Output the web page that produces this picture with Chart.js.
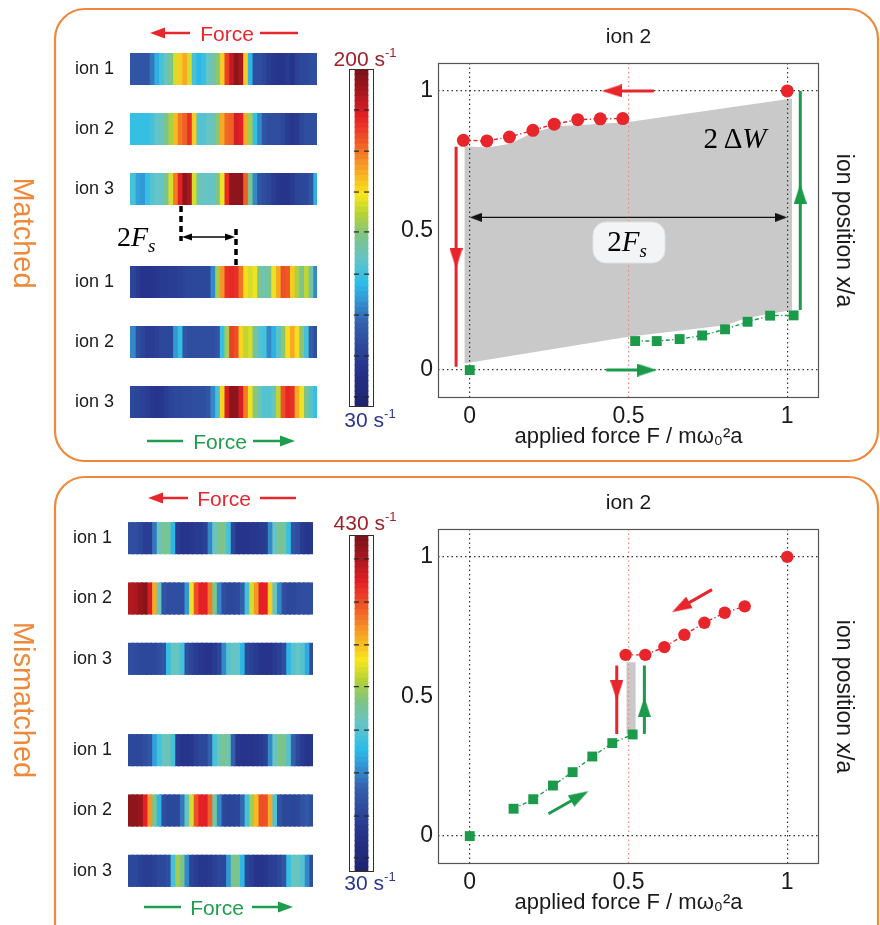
<!DOCTYPE html>
<html>
<head>
<meta charset="utf-8">
<script src="https://cdn.jsdelivr.net/npm/chart.js@4.4.1/dist/chart.umd.min.js"></script>
<style>
  body { margin: 0; width: 880px; height: 925px; overflow: hidden; position: relative; background: #fff;
         font-family: 'Liberation Sans', Arial, sans-serif; }
  canvas { position: absolute; }
  svg.overlay { position: absolute; left: 0; top: 0; pointer-events: none; }
</style>
</head>
<body>
<canvas id="mStripA" width="257" height="180" style="left:60px;top:39px"></canvas>
<canvas id="mStripB" width="257" height="180" style="left:60px;top:252px"></canvas>
<canvas id="mBar" width="25" height="338" style="left:349px;top:69px"></canvas>
<canvas id="mPlot" width="500" height="437" style="left:380px;top:15px"></canvas>

<canvas id="xStripA" width="255" height="181" style="left:58px;top:508px"></canvas>
<canvas id="xStripB" width="255" height="181" style="left:58px;top:720px"></canvas>
<canvas id="xBar" width="25" height="337" style="left:349px;top:535px"></canvas>
<canvas id="xPlot" width="500" height="437" style="left:380px;top:481px"></canvas>

<svg class="overlay" width="880" height="925" font-family="'Liberation Sans', Arial, sans-serif">
  <!-- panel frames -->
  <rect x="55" y="9" width="823" height="452" rx="30" ry="30" fill="none" stroke="#f0883a" stroke-width="2.2"/>
  <rect x="55" y="477" width="823" height="480" rx="30" ry="30" fill="none" stroke="#f0883a" stroke-width="2.2"/>
  <text x="22" y="233" transform="rotate(90 22 233)" text-anchor="middle" dominant-baseline="middle" fill="#f0883a" font-size="29">Matched</text>
  <text x="22" y="700" transform="rotate(90 22 700)" text-anchor="middle" dominant-baseline="middle" fill="#f0883a" font-size="29">Mismatched</text>

  <!-- force direction labels -->
  <g stroke="#e8262c" stroke-width="2.5" fill="#e8262c">
    <line x1="160" y1="33" x2="190" y2="33"/>
    <polygon points="150,33 165,27.5 165,38.5" stroke="none"/>
    <line x1="260" y1="33" x2="298" y2="33"/>
    <line x1="158" y1="498" x2="188" y2="498"/>
    <polygon points="148,498 163,492.5 163,503.5" stroke="none"/>
    <line x1="260" y1="498" x2="296" y2="498"/>
  </g>
  <text x="227" y="40.5" text-anchor="middle" font-size="21" fill="#e8262c">Force</text>
  <text x="224" y="505.5" text-anchor="middle" font-size="21" fill="#e8262c">Force</text>
  <g stroke="#1f9d4e" stroke-width="2.5" fill="#1f9d4e">
    <line x1="147" y1="441" x2="183" y2="441"/>
    <line x1="253" y1="441" x2="283" y2="441"/>
    <polygon points="295,441 280,435.5 280,446.5" stroke="none"/>
    <line x1="144" y1="907" x2="181" y2="907"/>
    <line x1="252" y1="907" x2="281" y2="907"/>
    <polygon points="293,907 278,901.5 278,912.5" stroke="none"/>
  </g>
  <text x="220" y="448.5" text-anchor="middle" font-size="21" fill="#1f9d4e">Force</text>
  <text x="217" y="914.5" text-anchor="middle" font-size="21" fill="#1f9d4e">Force</text>

  <!-- colour bar labels -->
  <text x="365" y="66" text-anchor="middle" font-size="21" fill="#9e1f27">200 s<tspan dy="-9" font-size="13">-1</tspan></text>
  <text x="370" y="427" text-anchor="middle" font-size="21" fill="#2b3590">30 s<tspan dy="-9" font-size="13">-1</tspan></text>
  <text x="365" y="530" text-anchor="middle" font-size="21" fill="#9e1f27">430 s<tspan dy="-9" font-size="13">-1</tspan></text>
  <text x="370" y="890" text-anchor="middle" font-size="21" fill="#2b3590">30 s<tspan dy="-9" font-size="13">-1</tspan></text>

  <!-- 2Fs marker between the strip groups -->
  <g stroke="#000" stroke-width="3.5" stroke-dasharray="6,4">
    <line x1="181" y1="206" x2="181" y2="241"/>
    <line x1="236" y1="229" x2="236" y2="267"/>
  </g>
  <line x1="188" y1="237" x2="229" y2="237" stroke="#000" stroke-width="1.3"/>
  <polygon points="182,237 192,233.5 192,240.5" fill="#000"/>
  <polygon points="235,237 225,233.5 225,240.5" fill="#000"/>
  <text x="117" y="246" font-family="'Liberation Serif', serif" font-size="28" font-style="italic"><tspan font-style="normal">2</tspan>F<tspan dy="6" font-size="19">s</tspan></text>

  <!-- labels inside matched plot -->
  <rect x="593" y="222" width="72" height="41" rx="13" ry="13" fill="#f3f4f5" stroke="#e2e2e2" stroke-width="1"/>
  <text x="627" y="251" text-anchor="middle" font-family="'Liberation Serif', serif" font-size="29" font-style="italic"><tspan font-style="normal">2</tspan>F<tspan dy="6" font-size="19">s</tspan></text>
  <text x="735" y="148" text-anchor="middle" font-family="'Liberation Serif', serif" font-size="29">2 Δ<tspan font-style="italic">W</tspan></text>
</svg>

<script>
Chart.defaults.font.family = "'Liberation Sans', Arial, sans-serif";
Chart.defaults.color = '#1a1a1a';
Chart.defaults.animation = false;

// ---- strip data: fraction of colour scale, 40 columns left -> right ----
const ionLabels = ['ion 1', 'ion 2', 'ion 3'];

// matched, force pointing left (upper group)
const matchedLeftIon1 = [0.22,0.22,0.22,0.22,0.28,0.35,0.40,0.45,0.50,0.60, 0.66,0.70,0.60,0.40,0.36,0.38,0.44,0.48,0.52,0.66, 0.82,0.90,0.97,0.93,0.66,0.36,0.20,0.20,0.18,0.15, 0.13,0.12,0.12,0.14,0.12,0.16,0.18,0.18,0.20,0.20];
const matchedLeftIon2 = [0.38,0.38,0.38,0.38,0.40,0.44,0.45,0.50,0.56,0.68, 0.75,0.78,0.84,0.66,0.42,0.42,0.44,0.46,0.52,0.70, 0.77,0.78,0.88,0.86,0.70,0.55,0.38,0.30,0.22,0.20, 0.20,0.20,0.18,0.15,0.13,0.14,0.18,0.20,0.20,0.20];
const matchedLeftIon3 = [0.40,0.33,0.32,0.38,0.42,0.44,0.44,0.50,0.60,0.75, 0.86,0.97,0.93,0.60,0.46,0.45,0.44,0.45,0.50,0.62, 0.85,0.97,0.97,0.97,0.78,0.50,0.30,0.22,0.20,0.18, 0.15,0.13,0.12,0.12,0.14,0.17,0.18,0.18,0.22,0.35];
// matched, force pointing right (lower group)
const matchedRightIon1 = [0.17,0.14,0.12,0.12,0.12,0.13,0.14,0.14,0.15,0.15, 0.16,0.17,0.18,0.18,0.18,0.18,0.18,0.30,0.55,0.72, 0.84,0.85,0.84,0.76,0.64,0.60,0.62,0.50,0.46,0.50, 0.62,0.70,0.80,0.79,0.66,0.56,0.50,0.58,0.48,0.30];
const matchedRightIon2 = [0.30,0.20,0.17,0.15,0.15,0.16,0.18,0.18,0.18,0.32, 0.38,0.22,0.20,0.20,0.20,0.20,0.20,0.20,0.22,0.38, 0.55,0.82,0.80,0.65,0.58,0.60,0.48,0.42,0.40,0.30, 0.35,0.42,0.52,0.64,0.70,0.64,0.52,0.40,0.24,0.20];
const matchedRightIon3 = [0.18,0.17,0.16,0.15,0.13,0.12,0.13,0.15,0.17,0.18, 0.18,0.19,0.19,0.20,0.20,0.20,0.22,0.30,0.40,0.65, 0.88,0.97,0.97,0.88,0.75,0.62,0.52,0.46,0.42,0.42, 0.45,0.58,0.80,0.85,0.84,0.70,0.62,0.50,0.42,0.38];

// mismatched
const mismLeftIon1 = [0.20,0.20,0.18,0.15,0.15,0.28,0.45,0.50,0.48,0.36, 0.14,0.12,0.12,0.13,0.14,0.14,0.16,0.30,0.45,0.50, 0.50,0.40,0.18,0.12,0.12,0.12,0.13,0.13,0.14,0.15, 0.30,0.45,0.50,0.48,0.38,0.22,0.20,0.14,0.12,0.13];
const mismLeftIon2 = [0.92,0.93,0.96,0.98,0.88,0.70,0.45,0.22,0.20,0.20, 0.20,0.20,0.32,0.62,0.80,0.86,0.86,0.75,0.50,0.30, 0.20,0.18,0.18,0.19,0.25,0.40,0.60,0.72,0.86,0.86, 0.66,0.45,0.30,0.20,0.18,0.18,0.19,0.20,0.20,0.20];
const mismLeftIon3 = [0.20,0.19,0.18,0.18,0.18,0.18,0.20,0.22,0.38,0.45, 0.45,0.40,0.20,0.17,0.15,0.13,0.12,0.12,0.14,0.17, 0.30,0.42,0.45,0.44,0.36,0.18,0.16,0.14,0.12,0.12, 0.12,0.14,0.16,0.20,0.36,0.42,0.45,0.42,0.34,0.20];
const mismRightIon1 = [0.18,0.18,0.18,0.20,0.22,0.33,0.40,0.45,0.46,0.40, 0.14,0.12,0.12,0.13,0.16,0.18,0.18,0.25,0.40,0.46, 0.50,0.46,0.25,0.13,0.12,0.12,0.12,0.13,0.14,0.16, 0.30,0.45,0.50,0.50,0.42,0.25,0.18,0.14,0.12,0.13];
const mismRightIon2 = [0.97,0.97,0.95,0.86,0.72,0.50,0.36,0.20,0.18,0.18, 0.18,0.28,0.45,0.60,0.80,0.86,0.86,0.78,0.48,0.30, 0.18,0.17,0.17,0.18,0.26,0.40,0.55,0.68,0.80,0.80, 0.70,0.42,0.22,0.18,0.18,0.17,0.18,0.21,0.23,0.20];
const mismRightIon3 = [0.18,0.18,0.16,0.15,0.15,0.16,0.18,0.18,0.20,0.40, 0.55,0.50,0.30,0.17,0.15,0.13,0.13,0.14,0.16,0.18, 0.18,0.32,0.50,0.50,0.36,0.17,0.15,0.12,0.12,0.13, 0.15,0.16,0.18,0.22,0.38,0.45,0.45,0.42,0.30,0.20];

// colour bar tick positions (fraction from bottom)
const matchedBarTicks = [0.030, 0.151, 0.272, 0.393, 0.518, 0.636, 0.757, 0.879];
const mismBarTicks = [0.042, 0.166, 0.294, 0.421, 0.550, 0.674, 0.801, 0.929];
const CB_LEVELS = 64;

// ---- position plots ----
const xTickValues = [0, 0.5, 1];
const yTickValues = [0, 0.5, 1];

const matchedRed = [[-0.02,0.823],[0.054,0.821],[0.125,0.835],[0.199,0.859],[0.266,0.881],[0.34,0.897],[0.411,0.90],[0.482,0.901]];
const matchedRedEnd = [[1,1]];
const matchedGreen = [[0.521,0.104],[0.589,0.104],[0.661,0.111],[0.732,0.124],[0.804,0.146],[0.875,0.173],[0.946,0.195],[1.02,0.196]];
const matchedGreenStart = [[0,0]];
const matchedFillTop = [[-0.017,0.802],[0.054,0.797],[0.127,0.811],[0.199,0.850],[0.274,0.874],[0.34,0.877],[0.5,0.889],[1.015,0.973]];
const matchedFillBottom = [[-0.017,0.024],[0.5,0.119],[0.805,0.161],[0.873,0.187],[1.015,0.215]];
const matchedArrows = [
  { color: 'red', line: [[0.58,1],[0.44,1]], tips: [[0.416,1]] },
  { color: 'red', line: [[-0.043,0.80],[-0.043,0.012]], tips: [[-0.043,0.364]] },
  { color: 'green', line: [[0.43,0],[0.565,0]], tips: [[0.59,0]] },
  { color: 'green', line: [[1.041,0.215],[1.041,1.0]], tips: [[1.041,0.668]] },
  { color: 'black', line: [[0.5,0.547],[0.02,0.547]], tips: [[0,0.547]] },
  { color: 'black', line: [[0.5,0.547],[0.98,0.547]], tips: [[1,0.547]] }
];

const mismRed = [[0.491,0.649],[0.553,0.649],[0.613,0.677],[0.676,0.721],[0.739,0.764],[0.803,0.80],[0.866,0.823]];
const mismRedEnd = [[1,1]];
const mismGreen = [[0.138,0.098],[0.20,0.132],[0.262,0.181],[0.324,0.229],[0.386,0.285],[0.449,0.333],[0.513,0.364]];
const mismGreenStart = [[0,0]];
const mismFillTop = [[0.493,0.623],[0.523,0.623]];
const mismFillBottom = [[0.493,0.366],[0.523,0.366]];
const mismArrows = [
  { color: 'red', line: [[0.763,0.883],[0.655,0.813]], tips: [[0.637,0.802]] },
  { color: 'green', line: [[0.248,0.08],[0.356,0.15]], tips: [[0.374,0.161]] },
  { color: 'red', line: [[0.463,0.611],[0.463,0.366]], tips: [[0.463,0.486]] },
  { color: 'green', line: [[0.55,0.366],[0.55,0.611]], tips: [[0.55,0.498]] }
];

// ---- styles ----
const RED = '#e8252b';
const GREEN = '#1b9a4a';
const FILL_GRAY = '#c9c9c9';
const ARROW_COLORS = { red: RED, green: GREEN, black: '#111' };

// printed "jet" colour map
const JET_STOPS = [
  [0.00, [30, 35, 110]], [0.12, [38, 52, 140]], [0.25, [52, 95, 172]], [0.33, [50, 160, 220]],
  [0.37, [45, 190, 232]], [0.44, [100, 196, 200]], [0.51, [128, 196, 130]], [0.57, [180, 210, 55]],
  [0.63, [248, 230, 28]], [0.71, [246, 160, 38]], [0.78, [240, 95, 38]], [0.86, [228, 32, 38]],
  [0.93, [170, 24, 30]], [1.00, [120, 18, 24]]
];

function jet(t) {
  t = Math.max(0, Math.min(1, t));
  for (let i = 1; i < JET_STOPS.length; i++) {
    const [t1, c1] = JET_STOPS[i];
    if (t <= t1) {
      const [t0, c0] = JET_STOPS[i - 1];
      const f = (t - t0) / (t1 - t0);
      const c = c0.map((v, k) => Math.round(v + (c1[k] - v) * f));
      return `rgb(${c[0]},${c[1]},${c[2]})`;
    }
  }
  return 'rgb(120,18,24)';
}

const toXY = pts => pts.map(([x, y]) => ({ x, y }));

const framePlugin = {
  id: 'frame',
  beforeDatasetsDraw(chart, args, opts) {
    if (opts.onTop) return;
    strokeFrame(chart, opts);
  },
  afterDraw(chart, args, opts) {
    if (opts.onTop) strokeFrame(chart, opts);
  }
};

function strokeFrame(chart, opts) {
  const { ctx, chartArea: a } = chart;
  ctx.save();
  ctx.strokeStyle = opts.color || '#555';
  ctx.lineWidth = opts.width || 1;
  ctx.strokeRect(Math.round(a.left) + 0.5, Math.round(a.top) + 0.5, Math.round(a.right - a.left) - 1, Math.round(a.bottom - a.top) - 1);
  ctx.restore();
}

// arrow head image with the tip at the image centre, pointing up
function arrowHead(color, w, len) {
  const c = document.createElement('canvas');
  c.width = w;
  c.height = len * 2;
  const g = c.getContext('2d');
  g.fillStyle = color;
  g.beginPath();
  g.moveTo(w / 2, len);
  g.lineTo(w, len * 2);
  g.lineTo(0, len * 2);
  g.closePath();
  g.fill();
  return c;
}
const HEADS = {
  red: arrowHead(RED, 13, 20),
  green: arrowHead(GREEN, 13, 20),
  black: arrowHead('#111', 9, 12)
};

function headAngle(chart, line) {
  const xs = chart.scales.x, ys = chart.scales.y;
  const dx = xs.getPixelForValue(line[1][0]) - xs.getPixelForValue(line[0][0]);
  const dy = ys.getPixelForValue(line[1][1]) - ys.getPixelForValue(line[0][1]);
  return Math.atan2(dx, -dy) * 180 / Math.PI;
}

function stripChart(id, strips) {
  const nCols = strips[0].length;
  const datasets = [];
  for (let j = 0; j < nCols; j++) {
    datasets.push({
      data: strips.map(() => 1),
      backgroundColor: strips.map(s => jet(s[j])),
      borderWidth: 0,
      inflateAmount: 1,
      barPercentage: 0.5,
      categoryPercentage: 1
    });
  }
  new Chart(document.getElementById(id), {
    type: 'bar',
    data: { labels: ionLabels, datasets },
    options: {
      indexAxis: 'y',
      responsive: false,
      devicePixelRatio: 1,
      events: [],
      layout: { padding: 0, autoPadding: false },
      plugins: { legend: { display: false }, tooltip: { enabled: false } },
      scales: {
        x: { display: false, stacked: true, min: 0, max: nCols },
        y: {
          stacked: true,
          grid: { display: false, drawTicks: false },
          border: { display: false },
          ticks: { font: { size: 18 }, padding: 16, color: '#1a1a1a' },
          afterFit: s => { s.width = 70; s.paddingTop = 0; s.paddingBottom = 0; }
        }
      }
    }
  });
}

function colorBar(id, tickFractions) {
  const levels = [];
  for (let k = 0; k < CB_LEVELS; k++) levels.push(k);
  const tickPts = [];
  tickFractions.forEach(f => {
    tickPts.push({ x: 0.09, y: f * CB_LEVELS });
    tickPts.push({ x: 0.91, y: f * CB_LEVELS });
  });
  new Chart(document.getElementById(id), {
    type: 'bar',
    data: {
      datasets: [
        {
          type: 'scatter',
          data: tickPts,
          pointStyle: 'line',
          pointRadius: 2.5,
          pointBorderColor: '#222',
          pointBorderWidth: 1.2
        },
        {
          type: 'bar',
          indexAxis: 'y',
          data: levels.map(k => ({ y: k + 0.5, x: 1 })),
          backgroundColor: levels.map(k => jet((k + 0.5) / CB_LEVELS)),
          borderWidth: 0,
          inflateAmount: 0.6,
          barPercentage: 1,
          categoryPercentage: 1
        }
      ]
    },
    options: {
      responsive: false,
      devicePixelRatio: 1,
      events: [],
      layout: { padding: 0, autoPadding: false },
      plugins: { legend: { display: false }, tooltip: { enabled: false }, frame: { color: '#3a2a28', width: 1, onTop: true } },
      scales: {
        x: { type: 'linear', display: false, min: 0, max: 1 },
        y: { type: 'linear', display: false, min: 0, max: CB_LEVELS, offset: false }
      }
    },
    plugins: [framePlugin]
  });
}

function positionPlot(id, parts) {
  const ds = [];
  ds.push({ type: 'line', data: toXY(parts.fillTop), fill: '+1', backgroundColor: FILL_GRAY, borderWidth: 0, pointRadius: 0, order: 9 });
  ds.push({ type: 'line', data: toXY(parts.fillBottom), fill: false, borderWidth: 0, pointRadius: 0, order: 9 });
  parts.arrows.forEach(a => {
    ds.push({
      type: 'line', data: toXY(a.line), fill: false, borderColor: ARROW_COLORS[a.color],
      borderWidth: a.color === 'black' ? 1.3 : 3, pointRadius: 0, order: 5
    });
    ds.push({
      type: 'scatter', data: toXY(a.tips), pointStyle: HEADS[a.color], pointRadius: 4,
      pointRotation: c => headAngle(c.chart, a.line), order: 4
    });
  });
  const dash = [4, 2.5, 1.2, 2.5];
  ds.push({ type: 'scatter', data: toXY(parts.red), showLine: true, borderColor: RED, borderWidth: 1.4, borderDash: dash,
            pointStyle: 'circle', pointRadius: parts.r, pointBackgroundColor: RED, pointBorderWidth: 0, order: 1 });
  ds.push({ type: 'scatter', data: toXY(parts.redEnd), pointStyle: 'circle', pointRadius: parts.r,
            pointBackgroundColor: RED, pointBorderWidth: 0, order: 1 });
  ds.push({ type: 'scatter', data: toXY(parts.green), showLine: true, borderColor: GREEN, borderWidth: 1.4, borderDash: dash,
            pointStyle: 'rect', pointRadius: 7, pointBackgroundColor: GREEN, pointBorderWidth: 0, order: 1 });
  ds.push({ type: 'scatter', data: toXY(parts.greenStart), pointStyle: 'rect', pointRadius: 7,
            pointBackgroundColor: GREEN, pointBorderWidth: 0, order: 1 });

  const gridDash = [1.5, 3];
  new Chart(document.getElementById(id), {
    type: 'scatter',
    data: { datasets: ds },
    options: {
      responsive: false,
      devicePixelRatio: 1,
      events: [],
      layout: { padding: 0 },
      plugins: {
        legend: { display: false },
        tooltip: { enabled: false },
        filler: { drawTime: 'beforeDraw' },
        frame: { color: '#555', width: 1.2 },
        title: {
          display: true, text: 'ion 2', fullSize: false, color: '#1a1a1a',
          font: { size: 21, weight: 'normal' }, padding: { top: 10, bottom: 12.8 }
        }
      },
      scales: {
        x: {
          type: 'linear', min: -0.1, max: 1.1,
          afterBuildTicks: a => { a.ticks = xTickValues.map(v => ({ value: v })); },
          afterFit: s => { s.height = 54; },
          grid: { color: c => (c.tick && c.tick.value === 0.5 ? '#ee8a78' : '#333'), lineWidth: 1.2, drawTicks: false },
          border: { display: false, dash: gridDash },
          ticks: { font: { size: 23 }, padding: 5, color: '#1a1a1a', callback: v => String(v) },
          title: { display: true, text: 'applied force F / mω₀²a', color: '#1a1a1a', font: { size: 22 }, padding: { top: 0, bottom: 2 } }
        },
        y: {
          type: 'linear', min: -0.1, max: 1.1,
          afterBuildTicks: a => { a.ticks = yTickValues.map(v => ({ value: v })); },
          afterFit: s => { s.width = 58; },
          grid: { color: c => (c.tick && c.tick.value === 0.5 ? 'rgba(0,0,0,0)' : '#333'), lineWidth: 1.2, drawTicks: false },
          border: { display: false, dash: gridDash },
          ticks: { font: { size: 23 }, padding: 5, color: '#1a1a1a', callback: v => String(v) }
        },
        y2: {
          type: 'linear', position: 'right', min: -0.1, max: 1.1,
          grid: { display: false }, border: { display: false }, ticks: { display: false },
          afterFit: s => { s.width = 61; },
          title: { display: true, text: 'ion position x/a', color: '#1a1a1a', font: { size: 23 }, padding: { top: 23, bottom: 0 } }
        }
      }
    },
    plugins: [framePlugin]
  });
}

stripChart('mStripA', [matchedLeftIon1, matchedLeftIon2, matchedLeftIon3]);
stripChart('mStripB', [matchedRightIon1, matchedRightIon2, matchedRightIon3]);
colorBar('mBar', matchedBarTicks);
positionPlot('mPlot', {
  fillTop: matchedFillTop, fillBottom: matchedFillBottom, arrows: matchedArrows, r: 6.5,
  red: matchedRed, redEnd: matchedRedEnd, green: matchedGreen, greenStart: matchedGreenStart
});

stripChart('xStripA', [mismLeftIon1, mismLeftIon2, mismLeftIon3]);
stripChart('xStripB', [mismRightIon1, mismRightIon2, mismRightIon3]);
colorBar('xBar', mismBarTicks);
positionPlot('xPlot', {
  fillTop: mismFillTop, fillBottom: mismFillBottom, arrows: mismArrows, r: 6.2,
  red: mismRed, redEnd: mismRedEnd, green: mismGreen, greenStart: mismGreenStart
});
</script>
</body>
</html>
